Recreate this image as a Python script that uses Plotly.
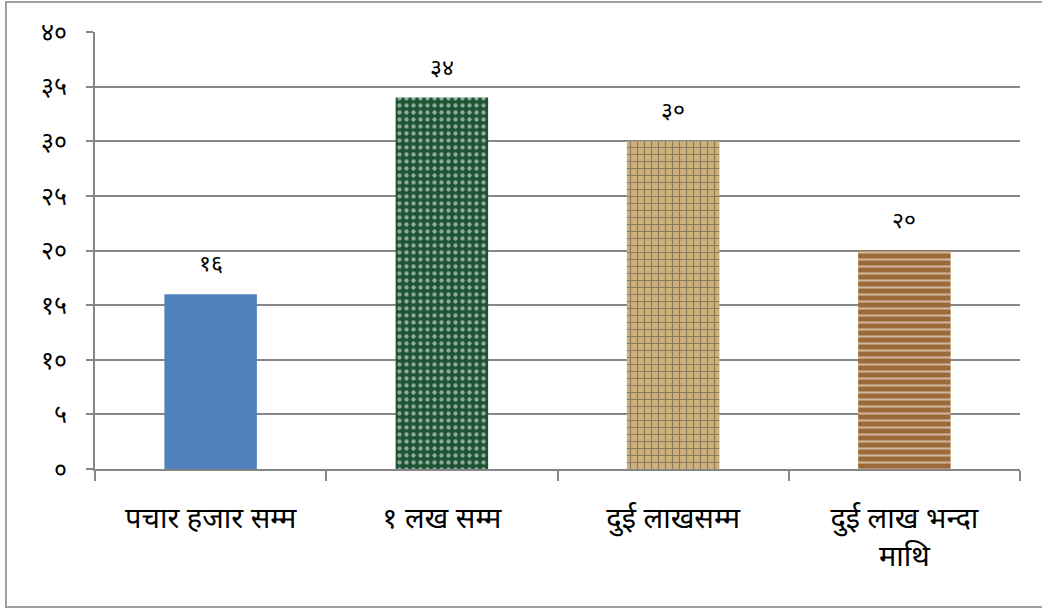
import plotly.graph_objects as go

categories = ["पचार हजार सम्म", "१ लख सम्म", "दुई लाखसम्म", "दुई लाख भन्दा<br>माथि"]
values = [16, 34, 30, 20]
value_labels = ["१६", "३४", "३०", "२०"]
tick_vals = [0, 5, 10, 15, 20, 25, 30, 35, 40]
tick_text = ["०", "५", "१०", "१५", "२०", "२५", "३०", "३५", "४०"]

bar_colors = ["#4f81bd", "#1d5434", "#cdb07a", "#9c6a38"]
pattern_shapes = ["", ".", "+", "-"]
pattern_fg = ["#4f81bd", "#347a4e", "#6e5530", "#6a4220"]

font_family = "Noto Sans Devanagari, Lohit Devanagari, Mangal, sans-serif"

fig = go.Figure()
fig.add_trace(go.Bar(
    x=categories,
    y=values,
    width=0.4,
    marker=dict(
        color=bar_colors,
        line=dict(width=0),
        pattern=dict(shape=pattern_shapes, fgcolor=pattern_fg, size=7, solidity=0.3),
    ),
    hoverinfo="skip",
))

for c, v, t in zip(categories, values, value_labels):
    fig.add_annotation(
        x=c, y=v, text=t, showarrow=False, yanchor="bottom", yshift=12,
        font=dict(size=23, color="#000000", family=font_family),
    )

fig.update_layout(
    width=1042, height=609,
    margin=dict(l=95, r=22, t=32, b=140),
    paper_bgcolor="#ffffff",
    plot_bgcolor="#ffffff",
    showlegend=False,
    font=dict(family=font_family, color="#000000"),
    xaxis=dict(
        showgrid=False,
        showline=True, linecolor="#868686", linewidth=2,
        ticks="outside", tickson="boundaries", ticklen=10, tickcolor="#868686", tickwidth=2,
        tickfont=dict(size=29, family=font_family, color="#000000"),
        ticklabelstandoff=22,
    ),
    yaxis=dict(
        range=[0, 40],
        tickvals=tick_vals, ticktext=tick_text,
        showgrid=True, gridcolor="#868686", gridwidth=2,
        showline=True, linecolor="#868686", linewidth=2,
        ticks="outside", ticklen=7, tickcolor="#868686", tickwidth=2,
        tickfont=dict(size=25, family=font_family, color="#000000"),
        ticklabelstandoff=14,
        zeroline=False,
    ),
    shapes=[dict(
        type="rect", xref="paper", yref="paper",
        x0=(6 - 95) / 925, x1=(1080 - 95) / 925,
        y0=(469 - 607) / 437, y1=(469 - 2) / 437,
        line=dict(color="#a0a0a0", width=2), fillcolor="rgba(0,0,0,0)",
        layer="below",
    )],
)

fig.write_html(
    "out.html",
    config={"displayModeBar": False},
    post_script="document.body.style.margin='0';document.body.style.overflow='hidden';",
)
